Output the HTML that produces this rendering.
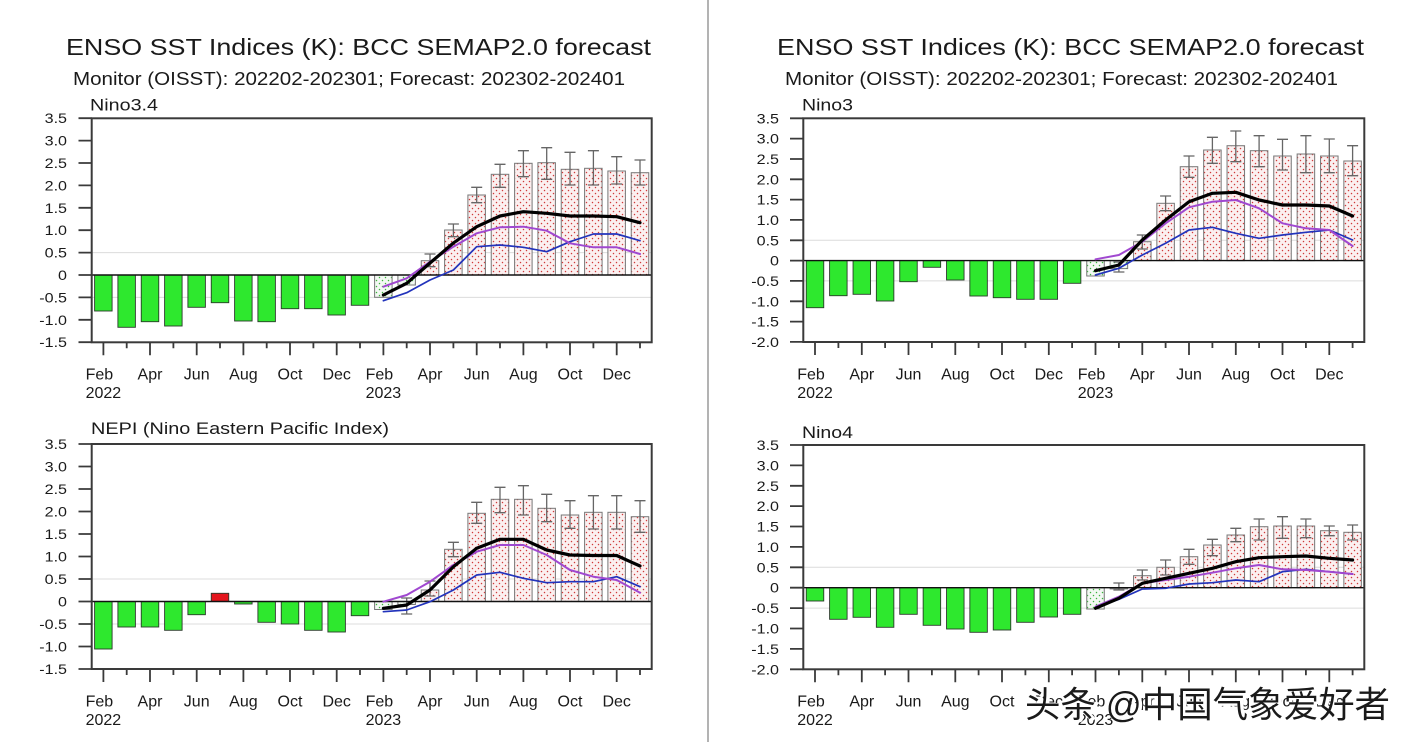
<!DOCTYPE html>
<html><head><meta charset="utf-8"><style>
html,body{margin:0;padding:0;background:#fff;}
svg{display:block;}
text{font-family:"Liberation Sans",Arial,sans-serif;fill:#1a1a1a;}
.wm{font-family:"Liberation Sans","Noto Sans CJK SC","WenQuanYi Zen Hei",sans-serif;}
</style></head><body>
<svg width="1412" height="742" viewBox="0 0 1412 742" xmlns="http://www.w3.org/2000/svg">
<defs>
<pattern id="rd" patternUnits="userSpaceOnUse" width="6" height="6"><rect width="6" height="6" fill="#fbf0f0"/><circle cx="1.5" cy="1.5" r="0.75" fill="#d03a3a"/><circle cx="4.5" cy="4.5" r="0.75" fill="#d03a3a"/></pattern>
<pattern id="gd" patternUnits="userSpaceOnUse" width="6" height="6"><rect width="6" height="6" fill="#f3f9f3"/><circle cx="1.5" cy="1.5" r="0.75" fill="#3cb43c"/><circle cx="4.5" cy="4.5" r="0.75" fill="#3cb43c"/></pattern>
</defs>
<rect width="1412" height="742" fill="#fff"/>
<line x1="708" y1="0" x2="708" y2="742" stroke="#9a9a9a" stroke-width="1.5"/>

<!-- Titles -->
<text x="66" y="55" font-size="23.5" textLength="585" lengthAdjust="spacingAndGlyphs">ENSO SST Indices (K): BCC SEMAP2.0 forecast</text>
<text x="73" y="85" font-size="18.5" textLength="552" lengthAdjust="spacingAndGlyphs">Monitor (OISST): 202202-202301; Forecast: 202302-202401</text>
<text x="777" y="55" font-size="23.5" textLength="587" lengthAdjust="spacingAndGlyphs">ENSO SST Indices (K): BCC SEMAP2.0 forecast</text>
<text x="785" y="85" font-size="18.5" textLength="553" lengthAdjust="spacingAndGlyphs">Monitor (OISST): 202202-202301; Forecast: 202302-202401</text>

<text x="90" y="110.5" font-size="16.5" textLength="68" lengthAdjust="spacingAndGlyphs">Nino3.4</text>
<text x="802" y="110.5" font-size="16.5" textLength="51" lengthAdjust="spacingAndGlyphs">Nino3</text>
<text x="91" y="434" font-size="16.5" textLength="298" lengthAdjust="spacingAndGlyphs">NEPI (Nino Eastern Pacific Index)</text>
<text x="802" y="438" font-size="16.5" textLength="51" lengthAdjust="spacingAndGlyphs">Nino4</text>

<!-- ================= TOP LEFT: Nino3.4 ================= -->
<g>
<line x1="91.7" y1="252.6" x2="651.7" y2="252.6" stroke="#dcdcdc" stroke-width="1"/>
<line x1="91.7" y1="297.4" x2="651.7" y2="297.4" stroke="#dcdcdc" stroke-width="1"/>
<g fill="#2ee82e" stroke="#2a3a2a" stroke-width="0.9">
<rect x="94.6" y="275" width="17.5" height="36"/>
<rect x="117.9" y="275" width="17.5" height="52.3"/>
<rect x="141.25" y="275" width="17.5" height="46.7"/>
<rect x="164.6" y="275" width="17.5" height="51"/>
<rect x="187.9" y="275" width="17.5" height="32.3"/>
<rect x="211.25" y="275" width="17.5" height="27.7"/>
<rect x="234.6" y="275" width="17.5" height="46"/>
<rect x="257.9" y="275" width="17.5" height="46.7"/>
<rect x="281.25" y="275" width="17.5" height="33.7"/>
<rect x="304.6" y="275" width="17.5" height="33.7"/>
<rect x="327.9" y="275" width="17.5" height="40"/>
<rect x="351.25" y="275" width="17.5" height="30.3"/>
</g>
<g stroke="#777" stroke-width="1">
<rect x="374.6" y="275" width="17.5" height="22.3" fill="url(#gd)"/>
<rect x="397.9" y="275" width="17.5" height="10" fill="url(#gd)"/>
<g fill="url(#rd)">
<rect x="421.25" y="260.7" width="17.5" height="14.3"/>
<rect x="444.6" y="230" width="17.5" height="45"/>
<rect x="467.9" y="195" width="17.5" height="80"/>
<rect x="491.25" y="174.3" width="17.5" height="100.7"/>
<rect x="514.6" y="163.3" width="17.5" height="111.7"/>
<rect x="537.9" y="162.7" width="17.5" height="112.3"/>
<rect x="561.25" y="169.3" width="17.5" height="105.7"/>
<rect x="584.6" y="168.3" width="17.5" height="106.7"/>
<rect x="607.9" y="171" width="17.5" height="104"/>
<rect x="631.25" y="172.7" width="17.5" height="102.3"/>
</g>
</g>
<path fill="none" stroke="#666" stroke-width="1.3" d="M424.5 254h11M430 254V266.7M424.5 266.7h11M447.9 224h11M453.4 224V236.7M447.9 236.7h11M471.2 187.3h11M476.7 187.3V202.7M471.2 202.7h11M494.5 164.3h11M500 164.3V187.3M494.5 187.3h11M517.9 150.7h11M523.4 150.7V176.7M517.9 176.7h11M541.2 147.7h11M546.7 147.7V179.3M541.2 179.3h11M564.5 152.3h11M570 152.3V185M564.5 185h11M587.9 150.7h11M593.4 150.7V185M587.9 185h11M611.2 156.7h11M616.7 156.7V184M611.2 184h11M634.5 160h11M640 160V185M634.5 185h11"/>
<line x1="91.7" y1="275" x2="651.7" y2="275" stroke="#111" stroke-width="1.4"/>
<polyline fill="none" stroke="#2233bb" stroke-width="1.7" stroke-linejoin="round" stroke-linecap="round" points="383.4,300.7 406.7,292.7 430,280 453.4,270 476.7,246.7 500,245 523.4,247.3 546.7,251.7 570,241.7 593.4,234 616.7,234 640,240.7"/>
<polyline fill="none" stroke="#a048d0" stroke-width="2" stroke-linejoin="round" stroke-linecap="round" points="383.4,286.7 406.7,278.3 430,261.7 453.4,246.7 476.7,233.3 500,227.3 523.4,226.7 546.7,230.7 570,243.3 593.4,247.3 616.7,247.3 640,254"/>
<polyline fill="none" stroke="#000" stroke-width="3.2" stroke-linejoin="round" stroke-linecap="round" points="383.4,295 406.7,283.3 430,263 453.4,243 476.7,226.7 500,216 523.4,211.7 546.7,213.3 570,216 593.4,216 616.7,216.7 640,222.7"/>
<rect x="91.7" y="118.3" width="560" height="224" fill="none" stroke="#3a3a3a" stroke-width="2"/>
<path fill="none" stroke="#3a3a3a" stroke-width="1.8" d="M78.5 118.2H91.7M78.5 140.6H91.7M78.5 163H91.7M78.5 185.4H91.7M78.5 207.8H91.7M78.5 230.2H91.7M78.5 252.6H91.7M78.5 275H91.7M78.5 297.4H91.7M78.5 319.8H91.7M78.5 342.2H91.7"/>
<path fill="none" stroke="#3a3a3a" stroke-width="1.8" d="M103.4 342.3v13M150 342.3v13M196.7 342.3v13M243.4 342.3v13M290 342.3v13M336.7 342.3v13M383.4 342.3v13M430 342.3v13M476.7 342.3v13M523.4 342.3v13M570 342.3v13M616.7 342.3v13M126.7 342.3v6M173.4 342.3v6M220 342.3v6M266.7 342.3v6M313.4 342.3v6M360 342.3v6M406.7 342.3v6M453.4 342.3v6M500 342.3v6M546.7 342.3v6M593.4 342.3v6M640 342.3v6"/>
<g font-size="14" text-anchor="end">
<text transform="translate(67,123.2) scale(1.15,1)">3.5</text>
<text transform="translate(67,145.6) scale(1.15,1)">3.0</text>
<text transform="translate(67,168) scale(1.15,1)">2.5</text>
<text transform="translate(67,190.4) scale(1.15,1)">2.0</text>
<text transform="translate(67,212.8) scale(1.15,1)">1.5</text>
<text transform="translate(67,235.2) scale(1.15,1)">1.0</text>
<text transform="translate(67,257.6) scale(1.15,1)">0.5</text>
<text transform="translate(67,280) scale(1.15,1)">0</text>
<text transform="translate(67,302.4) scale(1.15,1)">-0.5</text>
<text transform="translate(67,324.8) scale(1.15,1)">-1.0</text>
<text transform="translate(67,347.2) scale(1.15,1)">-1.5</text>
</g>
<g font-size="16" text-anchor="middle">
<text x="85.6" y="379.5" text-anchor="start">Feb</text><text x="103.4" y="398">2022</text>
<text x="150" y="379.5">Apr</text>
<text x="196.7" y="379.5">Jun</text>
<text x="243.4" y="379.5">Aug</text>
<text x="290" y="379.5">Oct</text>
<text x="336.7" y="379.5">Dec</text>
<text x="365.6" y="379.5" text-anchor="start">Feb</text><text x="383.4" y="398">2023</text>
<text x="430" y="379.5">Apr</text>
<text x="476.7" y="379.5">Jun</text>
<text x="523.4" y="379.5">Aug</text>
<text x="570" y="379.5">Oct</text>
<text x="616.7" y="379.5">Dec</text>
</g>
</g>

<!-- ================= BOTTOM LEFT: NEPI ================= -->
<g>
<line x1="91.7" y1="579" x2="651.7" y2="579" stroke="#dcdcdc" stroke-width="1"/>
<line x1="91.7" y1="624" x2="651.7" y2="624" stroke="#dcdcdc" stroke-width="1"/>
<g fill="#2ee82e" stroke="#2a3a2a" stroke-width="0.9">
<rect x="94.6" y="601.5" width="17.5" height="47.5"/>
<rect x="117.9" y="601.5" width="17.5" height="25.5"/>
<rect x="141.25" y="601.5" width="17.5" height="25.5"/>
<rect x="164.6" y="601.5" width="17.5" height="28.8"/>
<rect x="187.9" y="601.5" width="17.5" height="13.2"/>
<rect x="211.25" y="593.3" width="17.5" height="8.2" fill="#e3151c"/>
<rect x="234.6" y="601.5" width="17.5" height="2.5"/>
<rect x="257.9" y="601.5" width="17.5" height="20.8"/>
<rect x="281.25" y="601.5" width="17.5" height="22.5"/>
<rect x="304.6" y="601.5" width="17.5" height="28.8"/>
<rect x="327.9" y="601.5" width="17.5" height="30.5"/>
<rect x="351.25" y="601.5" width="17.5" height="14.2"/>
</g>
<g stroke="#777" stroke-width="1">
<rect x="374.6" y="601.5" width="17.5" height="8" fill="url(#gd)"/>
<rect x="397.9" y="601.5" width="17.5" height="3" fill="url(#gd)"/>
<g fill="url(#rd)">
<rect x="421.25" y="590" width="17.5" height="11.5"/>
<rect x="444.6" y="549.3" width="17.5" height="52.2"/>
<rect x="467.9" y="513.3" width="17.5" height="88.2"/>
<rect x="491.25" y="499.3" width="17.5" height="102.2"/>
<rect x="514.6" y="499.3" width="17.5" height="102.2"/>
<rect x="537.9" y="508.3" width="17.5" height="93.2"/>
<rect x="561.25" y="515" width="17.5" height="86.5"/>
<rect x="584.6" y="512.3" width="17.5" height="89.2"/>
<rect x="607.9" y="512.3" width="17.5" height="89.2"/>
<rect x="631.25" y="516.7" width="17.5" height="84.8"/>
</g>
</g>
<path fill="none" stroke="#666" stroke-width="1.3" d="M401.2 598h11M406.7 598V614M401.2 614h11M424.5 581h11M430 581V596M424.5 596h11M447.9 542.3h11M453.4 542.3V556.7M447.9 556.7h11M471.2 502.3h11M476.7 502.3V523.3M471.2 523.3h11M494.5 487.3h11M500 487.3V512.7M494.5 512.7h11M517.9 485.7h11M523.4 485.7V515M517.9 515h11M541.2 494.3h11M546.7 494.3V521.7M541.2 521.7h11M564.5 500.7h11M570 500.7V528.3M564.5 528.3h11M587.9 495.7h11M593.4 495.7V529M587.9 529h11M611.2 495.7h11M616.7 495.7V529M611.2 529h11M634.5 500.7h11M640 500.7V532.3M634.5 532.3h11"/>
<line x1="91.7" y1="601.5" x2="651.7" y2="601.5" stroke="#111" stroke-width="1.4"/>
<polyline fill="none" stroke="#2233bb" stroke-width="1.7" stroke-linejoin="round" stroke-linecap="round" points="383.4,611.7 406.7,610 430,601.7 453.4,590 476.7,575 500,572.3 523.4,578.3 546.7,582.7 570,581.7 593.4,581.7 616.7,576.7 640,586.7"/>
<polyline fill="none" stroke="#a048d0" stroke-width="2" stroke-linejoin="round" stroke-linecap="round" points="383.4,601.7 406.7,595 430,581.7 453.4,565 476.7,551.7 500,545 523.4,545 546.7,555 570,570 593.4,576.7 616.7,580 640,592.7"/>
<polyline fill="none" stroke="#000" stroke-width="3.2" stroke-linejoin="round" stroke-linecap="round" points="383.4,608.3 406.7,605 430,590 453.4,566.7 476.7,548.3 500,539.3 523.4,539.3 546.7,550 570,555 593.4,555.5 616.7,555.5 640,566"/>
<rect x="91.7" y="444" width="560" height="225" fill="none" stroke="#3a3a3a" stroke-width="2"/>
<path fill="none" stroke="#3a3a3a" stroke-width="1.8" d="M78.5 444H91.7M78.5 466.5H91.7M78.5 489H91.7M78.5 511.5H91.7M78.5 534H91.7M78.5 556.5H91.7M78.5 579H91.7M78.5 601.5H91.7M78.5 624H91.7M78.5 646.5H91.7M78.5 669H91.7"/>
<path fill="none" stroke="#3a3a3a" stroke-width="1.8" d="M103.4 669v13M150 669v13M196.7 669v13M243.4 669v13M290 669v13M336.7 669v13M383.4 669v13M430 669v13M476.7 669v13M523.4 669v13M570 669v13M616.7 669v13M126.7 669v6M173.4 669v6M220 669v6M266.7 669v6M313.4 669v6M360 669v6M406.7 669v6M453.4 669v6M500 669v6M546.7 669v6M593.4 669v6M640 669v6"/>
<g font-size="14" text-anchor="end">
<text transform="translate(67,449) scale(1.15,1)">3.5</text>
<text transform="translate(67,471.5) scale(1.15,1)">3.0</text>
<text transform="translate(67,494) scale(1.15,1)">2.5</text>
<text transform="translate(67,516.5) scale(1.15,1)">2.0</text>
<text transform="translate(67,539) scale(1.15,1)">1.5</text>
<text transform="translate(67,561.5) scale(1.15,1)">1.0</text>
<text transform="translate(67,584) scale(1.15,1)">0.5</text>
<text transform="translate(67,606.5) scale(1.15,1)">0</text>
<text transform="translate(67,629) scale(1.15,1)">-0.5</text>
<text transform="translate(67,651.5) scale(1.15,1)">-1.0</text>
<text transform="translate(67,674) scale(1.15,1)">-1.5</text>
</g>
<g font-size="16" text-anchor="middle">
<text x="85.6" y="706.5" text-anchor="start">Feb</text><text x="103.4" y="725">2022</text>
<text x="150" y="706.5">Apr</text>
<text x="196.7" y="706.5">Jun</text>
<text x="243.4" y="706.5">Aug</text>
<text x="290" y="706.5">Oct</text>
<text x="336.7" y="706.5">Dec</text>
<text x="365.6" y="706.5" text-anchor="start">Feb</text><text x="383.4" y="725">2023</text>
<text x="430" y="706.5">Apr</text>
<text x="476.7" y="706.5">Jun</text>
<text x="523.4" y="706.5">Aug</text>
<text x="570" y="706.5">Oct</text>
<text x="616.7" y="706.5">Dec</text>
</g>
</g>

<!-- ================= TOP RIGHT: Nino3 ================= -->
<g>
<line x1="803.3" y1="240.3" x2="1364.3" y2="240.3" stroke="#dcdcdc" stroke-width="1"/>
<line x1="803.3" y1="280.9" x2="1364.3" y2="280.9" stroke="#dcdcdc" stroke-width="1"/>
<g fill="#2ee82e" stroke="#2a3a2a" stroke-width="0.9">
<rect x="806.25" y="260.6" width="17.5" height="47.1"/>
<rect x="829.6" y="260.6" width="17.5" height="35.1"/>
<rect x="853.05" y="260.6" width="17.5" height="33.7"/>
<rect x="876.35" y="260.6" width="17.5" height="40.4"/>
<rect x="899.75" y="260.6" width="17.5" height="21.1"/>
<rect x="923.15" y="260.6" width="17.5" height="6.7"/>
<rect x="946.55" y="260.6" width="17.5" height="19.4"/>
<rect x="969.85" y="260.6" width="17.5" height="35.4"/>
<rect x="993.25" y="260.6" width="17.5" height="37.1"/>
<rect x="1016.65" y="260.6" width="17.5" height="38.7"/>
<rect x="1040.05" y="260.6" width="17.5" height="38.7"/>
<rect x="1063.35" y="260.6" width="17.5" height="22.7"/>
</g>
<g stroke="#777" stroke-width="1">
<rect x="1086.75" y="260.6" width="17.5" height="15.4" fill="url(#gd)"/>
<rect x="1110.15" y="260.6" width="17.5" height="8" fill="url(#gd)"/>
<g fill="url(#rd)">
<rect x="1133.55" y="241.7" width="17.5" height="18.9"/>
<rect x="1156.85" y="203.3" width="17.5" height="57.3"/>
<rect x="1180.25" y="166.7" width="17.5" height="93.9"/>
<rect x="1203.65" y="150" width="17.5" height="110.6"/>
<rect x="1227.05" y="145.7" width="17.5" height="114.9"/>
<rect x="1250.35" y="150.7" width="17.5" height="109.9"/>
<rect x="1273.75" y="156" width="17.5" height="104.6"/>
<rect x="1297.15" y="154" width="17.5" height="106.6"/>
<rect x="1320.55" y="156" width="17.5" height="104.6"/>
<rect x="1343.85" y="161" width="17.5" height="99.6"/>
</g>
</g>
<path fill="none" stroke="#666" stroke-width="1.3" d="M1113.4 262h11M1118.9 262V272M1113.4 272h11M1136.8 235h11M1142.3 235V249M1136.8 249h11M1160.1 196h11M1165.6 196V210.7M1160.1 210.7h11M1183.5 156h11M1189 156V177.3M1183.5 177.3h11M1206.9 137.3h11M1212.4 137.3V163.3M1206.9 163.3h11M1230.3 131h11M1235.8 131V161.7M1230.3 161.7h11M1253.6 135.7h11M1259.1 135.7V166.7M1253.6 166.7h11M1277 139.3h11M1282.5 139.3V170M1277 170h11M1300.4 135.7h11M1305.9 135.7V172.7M1300.4 172.7h11M1323.8 139h11M1329.3 139V172.7M1323.8 172.7h11M1347.1 145.7h11M1352.6 145.7V175.7M1347.1 175.7h11"/>
<line x1="803.3" y1="260.6" x2="1364.3" y2="260.6" stroke="#111" stroke-width="1.4"/>
<polyline fill="none" stroke="#2233bb" stroke-width="1.7" stroke-linejoin="round" stroke-linecap="round" points="1095.5,275 1118.9,268.3 1142.3,255 1165.6,243.3 1189,230 1212.4,227.3 1235.8,233.3 1259.1,238.3 1282.5,235 1305.9,232.3 1329.3,230 1352.6,240"/>
<polyline fill="none" stroke="#a048d0" stroke-width="2" stroke-linejoin="round" stroke-linecap="round" points="1095.5,259.3 1118.9,255 1142.3,241.7 1165.6,223.3 1189,207.3 1212.4,201.7 1235.8,200 1259.1,208.3 1282.5,223.3 1305.9,228.3 1329.3,230 1352.6,246"/>
<polyline fill="none" stroke="#000" stroke-width="3.2" stroke-linejoin="round" stroke-linecap="round" points="1095.5,270.7 1118.9,265 1142.3,240 1165.6,220 1189,201.7 1212.4,193.3 1235.8,192.3 1259.1,200 1282.5,205 1305.9,205 1329.3,206 1352.6,216"/>
<rect x="803.3" y="118.3" width="561" height="223.7" fill="none" stroke="#3a3a3a" stroke-width="2"/>
<path fill="none" stroke="#3a3a3a" stroke-width="1.8" d="M790 118.3H803.3M790 138.6H803.3M790 159H803.3M790 179.3H803.3M790 199.6H803.3M790 219.9H803.3M790 240.3H803.3M790 260.6H803.3M790 280.9H803.3M790 301.3H803.3M790 321.6H803.3M790 341.9H803.3"/>
<path fill="none" stroke="#3a3a3a" stroke-width="1.8" d="M815 342v13M861.8 342v13M908.5 342v13M955.3 342v13M1002 342v13M1048.8 342v13M1095.5 342v13M1142.3 342v13M1189 342v13M1235.8 342v13M1282.5 342v13M1329.3 342v13M838.4 342v6M885.1 342v6M931.9 342v6M978.6 342v6M1025.4 342v6M1072.1 342v6M1118.9 342v6M1165.6 342v6M1212.4 342v6M1259.1 342v6M1305.9 342v6M1352.6 342v6"/>
<g font-size="14" text-anchor="end">
<text transform="translate(779,123.3) scale(1.15,1)">3.5</text>
<text transform="translate(779,143.6) scale(1.15,1)">3.0</text>
<text transform="translate(779,164) scale(1.15,1)">2.5</text>
<text transform="translate(779,184.3) scale(1.15,1)">2.0</text>
<text transform="translate(779,204.6) scale(1.15,1)">1.5</text>
<text transform="translate(779,224.9) scale(1.15,1)">1.0</text>
<text transform="translate(779,245.3) scale(1.15,1)">0.5</text>
<text transform="translate(779,265.6) scale(1.15,1)">0</text>
<text transform="translate(779,285.9) scale(1.15,1)">-0.5</text>
<text transform="translate(779,306.3) scale(1.15,1)">-1.0</text>
<text transform="translate(779,326.6) scale(1.15,1)">-1.5</text>
<text transform="translate(779,346.9) scale(1.15,1)">-2.0</text>
</g>
<g font-size="16" text-anchor="middle">
<text x="797.2" y="379.5" text-anchor="start">Feb</text><text x="815" y="398">2022</text>
<text x="861.8" y="379.5">Apr</text>
<text x="908.5" y="379.5">Jun</text>
<text x="955.3" y="379.5">Aug</text>
<text x="1002" y="379.5">Oct</text>
<text x="1048.8" y="379.5">Dec</text>
<text x="1077.7" y="379.5" text-anchor="start">Feb</text><text x="1095.5" y="398">2023</text>
<text x="1142.3" y="379.5">Apr</text>
<text x="1189" y="379.5">Jun</text>
<text x="1235.8" y="379.5">Aug</text>
<text x="1282.5" y="379.5">Oct</text>
<text x="1329.3" y="379.5">Dec</text>
</g>
</g>

<!-- ================= BOTTOM RIGHT: Nino4 ================= -->
<g>
<line x1="803.3" y1="567.3" x2="1364.3" y2="567.3" stroke="#dcdcdc" stroke-width="1"/>
<line x1="803.3" y1="608.1" x2="1364.3" y2="608.1" stroke="#dcdcdc" stroke-width="1"/>
<g fill="#2ee82e" stroke="#2a3a2a" stroke-width="0.9">
<rect x="806.25" y="587.7" width="17.5" height="13.3"/>
<rect x="829.6" y="587.7" width="17.5" height="31.6"/>
<rect x="853.05" y="587.7" width="17.5" height="29.6"/>
<rect x="876.35" y="587.7" width="17.5" height="39.6"/>
<rect x="899.75" y="587.7" width="17.5" height="26.6"/>
<rect x="923.15" y="587.7" width="17.5" height="37.6"/>
<rect x="946.55" y="587.7" width="17.5" height="41.3"/>
<rect x="969.85" y="587.7" width="17.5" height="44.6"/>
<rect x="993.25" y="587.7" width="17.5" height="42.3"/>
<rect x="1016.65" y="587.7" width="17.5" height="34.6"/>
<rect x="1040.05" y="587.7" width="17.5" height="29.3"/>
<rect x="1063.35" y="587.7" width="17.5" height="26.6"/>
</g>
<g stroke="#777" stroke-width="1">
<rect x="1086.75" y="587.7" width="17.5" height="21.3" fill="url(#gd)"/>
<rect x="1110.15" y="587.7" width="17.5" height="1.2" fill="url(#gd)"/>
<g fill="url(#rd)">
<rect x="1133.55" y="575.7" width="17.5" height="12"/>
<rect x="1156.85" y="567.3" width="17.5" height="20.4"/>
<rect x="1180.25" y="556.7" width="17.5" height="31"/>
<rect x="1203.65" y="545" width="17.5" height="42.7"/>
<rect x="1227.05" y="535" width="17.5" height="52.7"/>
<rect x="1250.35" y="526.7" width="17.5" height="61"/>
<rect x="1273.75" y="526" width="17.5" height="61.7"/>
<rect x="1297.15" y="526" width="17.5" height="61.7"/>
<rect x="1320.55" y="530.7" width="17.5" height="57"/>
<rect x="1343.85" y="532.3" width="17.5" height="55.4"/>
</g>
</g>
<path fill="none" stroke="#666" stroke-width="1.3" d="M1113.4 583h11M1118.9 583V590M1113.4 590h11M1136.8 570h11M1142.3 570V580M1136.8 580h11M1160.1 560h11M1165.6 560V575M1160.1 575h11M1183.5 549.3h11M1189 549.3V564.3M1183.5 564.3h11M1206.9 539.3h11M1212.4 539.3V555.7M1206.9 555.7h11M1230.3 528.3h11M1235.8 528.3V541.7M1230.3 541.7h11M1253.6 519h11M1259.1 519V540M1253.6 540h11M1277 516.7h11M1282.5 516.7V538.3M1277 538.3h11M1300.4 519h11M1305.9 519V537.7M1300.4 537.7h11M1323.8 526h11M1329.3 526V535.7M1323.8 535.7h11M1347.1 525h11M1352.6 525V540M1347.1 540h11"/>
<line x1="803.3" y1="587.7" x2="1364.3" y2="587.7" stroke="#111" stroke-width="1.4"/>
<polyline fill="none" stroke="#2233bb" stroke-width="1.7" stroke-linejoin="round" stroke-linecap="round" points="1095.5,607.5 1118.9,599.3 1142.3,589 1165.6,588.3 1189,584 1212.4,582.7 1235.8,580 1259.1,581.7 1282.5,571.7 1305.9,569.3 1329.3,571.7 1352.6,574"/>
<polyline fill="none" stroke="#a048d0" stroke-width="2" stroke-linejoin="round" stroke-linecap="round" points="1095.5,606.7 1118.9,596.7 1142.3,583.3 1165.6,580 1189,576.7 1212.4,572.7 1235.8,568.3 1259.1,565 1282.5,569.3 1305.9,570 1329.3,571.7 1352.6,574"/>
<polyline fill="none" stroke="#000" stroke-width="3.2" stroke-linejoin="round" stroke-linecap="round" points="1095.5,608.3 1118.9,598.3 1142.3,583.3 1165.6,578.3 1189,573.3 1212.4,568.3 1235.8,561.7 1259.1,557.7 1282.5,556.7 1305.9,556 1329.3,558.3 1352.6,560"/>
<rect x="803.3" y="445" width="561" height="224.3" fill="none" stroke="#3a3a3a" stroke-width="2"/>
<path fill="none" stroke="#3a3a3a" stroke-width="1.8" d="M790 445H803.3M790 465.4H803.3M790 485.8H803.3M790 506.1H803.3M790 526.5H803.3M790 546.9H803.3M790 567.3H803.3M790 587.7H803.3M790 608.1H803.3M790 628.5H803.3M790 648.9H803.3M790 669.3H803.3"/>
<path fill="none" stroke="#3a3a3a" stroke-width="1.8" d="M815 669.3v13M861.8 669.3v13M908.5 669.3v13M955.3 669.3v13M1002 669.3v13M1048.8 669.3v13M1095.5 669.3v13M1142.3 669.3v13M1189 669.3v13M1235.8 669.3v13M1282.5 669.3v13M1329.3 669.3v13M838.4 669.3v6M885.1 669.3v6M931.9 669.3v6M978.6 669.3v6M1025.4 669.3v6M1072.1 669.3v6M1118.9 669.3v6M1165.6 669.3v6M1212.4 669.3v6M1259.1 669.3v6M1305.9 669.3v6M1352.6 669.3v6"/>
<g font-size="14" text-anchor="end">
<text transform="translate(779,450) scale(1.15,1)">3.5</text>
<text transform="translate(779,470.4) scale(1.15,1)">3.0</text>
<text transform="translate(779,490.8) scale(1.15,1)">2.5</text>
<text transform="translate(779,511.1) scale(1.15,1)">2.0</text>
<text transform="translate(779,531.5) scale(1.15,1)">1.5</text>
<text transform="translate(779,551.9) scale(1.15,1)">1.0</text>
<text transform="translate(779,572.3) scale(1.15,1)">0.5</text>
<text transform="translate(779,592.7) scale(1.15,1)">0</text>
<text transform="translate(779,613.1) scale(1.15,1)">-0.5</text>
<text transform="translate(779,633.5) scale(1.15,1)">-1.0</text>
<text transform="translate(779,653.9) scale(1.15,1)">-1.5</text>
<text transform="translate(779,674.3) scale(1.15,1)">-2.0</text>
</g>
<g font-size="16" text-anchor="middle">
<text x="797.2" y="706.5" text-anchor="start">Feb</text><text x="815" y="725">2022</text>
<text x="861.8" y="706.5">Apr</text>
<text x="908.5" y="706.5">Jun</text>
<text x="955.3" y="706.5">Aug</text>
<text x="1002" y="706.5">Oct</text>
<text x="1048.8" y="706.5" fill="#888">Dec</text>
<text x="1077.7" y="706.5" text-anchor="start" fill="#888">Feb</text><text x="1095.5" y="725" fill="#888">2023</text>
<text x="1142.3" y="706.5" fill="#888">Apr</text>
<text x="1189" y="706.5" fill="#888">Jun</text>
<text x="1235.8" y="706.5" fill="#888">Aug</text>
<text x="1282.5" y="706.5" fill="#888">Oct</text>
<text x="1329.3" y="706.5" fill="#888">Dec</text>
</g>
</g>

<!-- Watermark -->
<text class="wm" x="1027" y="718" font-size="36" textLength="365" lengthAdjust="spacingAndGlyphs" fill="#fff" stroke="#fff" stroke-width="3">头条 @中国气象爱好者</text>
<text class="wm" x="1025" y="717" font-size="36" textLength="365" lengthAdjust="spacingAndGlyphs" fill="#000">头条 @中国气象爱好者</text>
</svg>
</body></html>
